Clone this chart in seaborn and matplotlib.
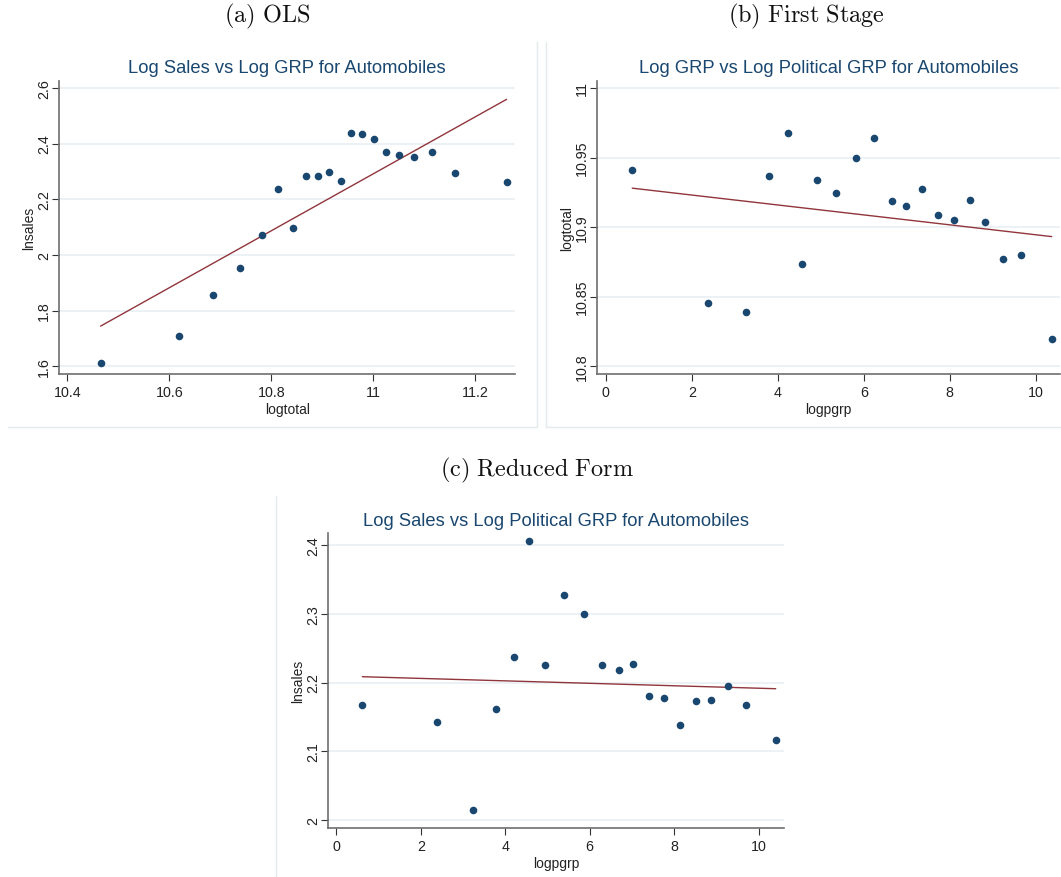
import matplotlib
matplotlib.use("Agg")
import matplotlib.pyplot as plt
import seaborn as sns
import pandas as pd
from matplotlib.lines import Line2D

# ---------------- data ----------------
a_logtotal = [10.465, 10.619, 10.685, 10.739, 10.781, 10.814, 10.842, 10.868, 10.891, 10.914,
              10.936, 10.957, 10.979, 11.001, 11.025, 11.051, 11.081, 11.115, 11.161, 11.262]
a_lnsales = [1.611, 1.709, 1.857, 1.952, 2.072, 2.237, 2.098, 2.285, 2.284, 2.298,
             2.265, 2.437, 2.436, 2.416, 2.368, 2.358, 2.351, 2.371, 2.293, 2.262]
a_fit_x = [10.465, 11.262]
a_fit_y = [1.744, 2.559]

b_logpgrp = [0.613, 2.382, 3.251, 3.794, 4.228, 4.562, 4.911, 5.345, 5.811, 6.245,
             6.649, 6.990, 7.362, 7.727, 8.107, 8.480, 8.828, 9.232, 9.651, 10.372]
b_logtotal = [10.9413, 10.8455, 10.8390, 10.9365, 10.9677, 10.8733, 10.9337, 10.9248, 10.9500, 10.9638,
              10.9190, 10.9154, 10.9274, 10.9090, 10.9050, 10.9195, 10.9040, 10.8774, 10.8800, 10.8194]
b_fit_x = [0.613, 10.372]
b_fit_y = [10.928, 10.8932]

c_logpgrp = [0.616, 2.384, 3.244, 3.788, 4.215, 4.562, 4.949, 5.399, 5.872, 6.290,
             6.693, 7.033, 7.403, 7.766, 8.145, 8.516, 8.863, 9.274, 9.692, 10.403]
c_lnsales = [2.1677, 2.1419, 2.0146, 2.1618, 2.2367, 2.4063, 2.2250, 2.3270, 2.3000, 2.2250,
             2.2182, 2.2270, 2.1808, 2.1779, 2.1375, 2.1730, 2.1745, 2.1944, 2.1667, 2.1166]
c_fit_x = [0.616, 10.403]
c_fit_y = [2.2085, 2.191]

titles = ["Log Sales vs Log GRP for Automobiles",
          "Log GRP vs Log Political GRP for Automobiles",
          "Log Sales vs Log Political GRP for Automobiles"]
subcaps = [r"$\mathrm{(a)\ OLS}$", r"$\mathrm{(b)\ First\ Stage}$", r"$\mathrm{(c)\ Reduced\ Form}$"]
xlabels = ["logtotal", "logpgrp", "logpgrp"]
ylabels = ["lnsales", "logtotal", "lnsales"]
a_xticks = [10.4, 10.6, 10.8, 11, 11.2]
a_yticks = [1.6, 1.8, 2, 2.2, 2.4, 2.6]
b_xticks = [0, 2, 4, 6, 8, 10]
b_yticks = [10.8, 10.85, 10.9, 10.95, 11]
c_xticks = [0, 2, 4, 6, 8, 10]
c_yticks = [2, 2.1, 2.2, 2.3, 2.4]

# ---------------- style ----------------
sns.set_theme(style="white")
plt.rcParams["font.family"] = ["Liberation Sans", "DejaVu Sans"]
plt.rcParams["mathtext.fontset"] = "cm"

NAVY = "#1a476f"
MAROON = "#90353b"
GRID = "#e6eef1"
SPINE = "#6e6e6e"
BORDER = "#e3ebee"

W, H = 1061, 878
fig = plt.figure(figsize=(W / 100, H / 100), dpi=100)


def px_axes(left, top, right, bottom):
    return fig.add_axes([left / W, 1 - bottom / H, (right - left) / W, (bottom - top) / H])


def style(ax, title, xlabel, ylabel, xticks, yticks, xlim, ylim):
    ax.set_xlim(*xlim)
    ax.set_ylim(*ylim)
    ax.set_xticks(xticks)
    ax.set_xticklabels([f"{t:g}" for t in xticks])
    ax.set_yticks(yticks)
    ax.set_yticklabels([f"{t:g}" for t in yticks], rotation=90, va="center")
    ax.set_title(title, color=NAVY, fontsize=13.2, pad=6)
    ax.set_xlabel(xlabel, fontsize=10, color="#222222", labelpad=2)
    ax.set_ylabel(ylabel, fontsize=10, color="#222222", labelpad=1)
    ax.tick_params(axis="both", labelsize=10.3, length=5, width=0.8, color="#333333",
                   direction="out", labelcolor="#222222")
    ax.tick_params(axis="x", pad=3)
    ax.tick_params(axis="y", pad=0.8)
    ax.tick_params(axis="both", which="both", bottom=True, left=True)
    for s in ["top", "right"]:
        ax.spines[s].set_visible(False)
    for s in ["left", "bottom"]:
        ax.spines[s].set_color(SPINE)
        ax.spines[s].set_linewidth(1.2)
    ax.yaxis.grid(True, color=GRID, linewidth=1.1)
    ax.xaxis.grid(False)
    ax.set_axisbelow(True)
    ax.set_facecolor("white")


def panel(ax, x, y, fx, fy):
    df = pd.DataFrame({"x": x, "y": y})
    fit = pd.DataFrame({"x": fx, "y": fy})
    sns.scatterplot(data=df, x="x", y="y", ax=ax, color=NAVY, s=30, edgecolor=NAVY,
                    linewidth=0, zorder=3)
    sns.lineplot(data=fit, x="x", y="y", ax=ax, color=MAROON, linewidth=1.0, zorder=2)


axA = px_axes(59.3, 81.7, 515, 375)
panel(axA, a_logtotal, a_lnsales, a_fit_x, a_fit_y)
style(axA, titles[0], xlabels[0], ylabels[0], a_xticks, a_yticks,
      (10.384, 11.2785), (1.572, 2.626))

axB = px_axes(597.3, 81.7, 1060, 375)
panel(axB, b_logpgrp, b_logtotal, b_fit_x, b_fit_y)
style(axB, titles[1], xlabels[1], ylabels[1], b_xticks, b_yticks,
      (-0.2, 10.565), (10.7945, 11.0052))

axC = px_axes(328.3, 534.3, 784, 829)
panel(axC, c_logpgrp, c_lnsales, c_fit_x, c_fit_y)
style(axC, titles[2], xlabels[2], ylabels[2], c_xticks, c_yticks,
      (-0.19, 10.6), (1.988, 2.4175))

# sub-captions
fig.text(266.7 / W, 1 - 16 / H, subcaps[0], ha="center", va="center", fontsize=17.5, color="#111111")
fig.text(806 / W, 1 - 16 / H, subcaps[1], ha="center", va="center", fontsize=17.5, color="#111111")
fig.text(536.5 / W, 1 - 470 / H, subcaps[2], ha="center", va="center", fontsize=17.5, color="#111111")


# light panel borders
def fline(xs, ys):
    fig.add_artist(Line2D([v / W for v in xs], [1 - v / H for v in ys], color=BORDER,
                          linewidth=1.0, transform=fig.transFigure))


fline([8, 536.7, 536.7], [428.3, 428.3, 43])
fline([545.7, 545.7, 1061], [43, 428.3, 428.3])
fline([276, 276], [497, 878])

fig.savefig("out.png", dpi=100, facecolor="white")
